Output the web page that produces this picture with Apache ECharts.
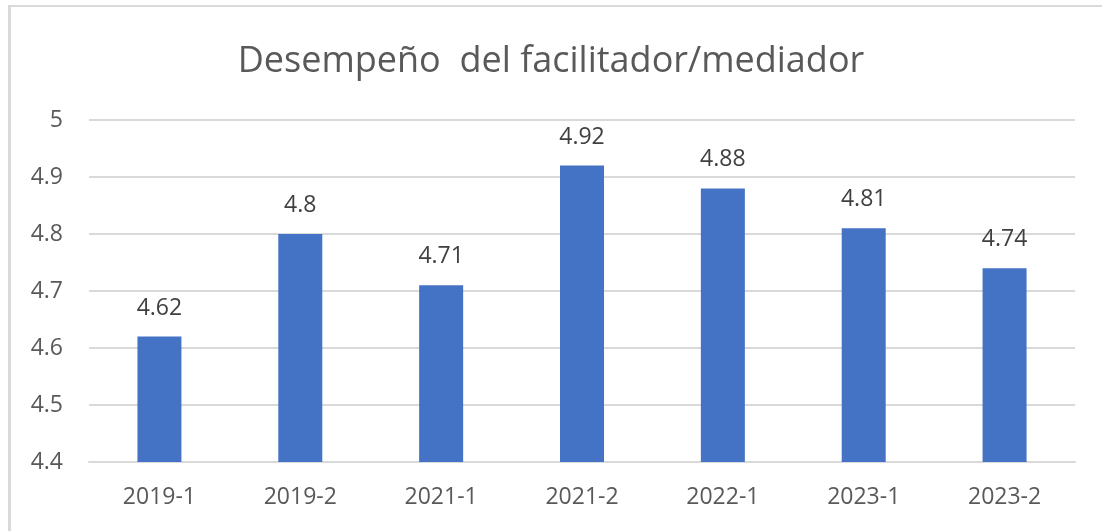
<!DOCTYPE html>
<html>
<head>
<meta charset="utf-8">
<script src="https://cdn.jsdelivr.net/npm/echarts@6/dist/echarts.min.js"></script>
<style>
    html, body { margin: 0; padding: 0; background: #fff; }
    #frame {
        position: absolute; left: 8px; top: 5px; width: 1110px; height: 540px;
        border-left: 3px solid #d9d9d9; border-top: 2px solid #d9d9d9;
    }
    #chart { position: absolute; left: 0; top: 0; width: 1102px; height: 531px; }
</style>
</head>
<body>
<div id="frame"></div>
<div id="chart"></div>
<script>
var periodos = ['2019-1', '2019-2', '2021-1', '2021-2', '2022-1', '2023-1', '2023-2'];
var puntajes = [4.62, 4.8, 4.71, 4.92, 4.88, 4.81, 4.74];
var ejeY = { min: 4.4, max: 5, interval: 0.1 };

var chart = echarts.init(document.getElementById('chart'));
chart.setOption({
    animation: false,
    title: {
        text: 'Desempeño  del facilitador/mediador',
        left: 'center',
        top: 39,
        textStyle: {
            fontFamily: 'Open Sans',
            fontSize: 36,
            fontWeight: 'normal',
            color: '#595959'
        }
    },
    grid: {
        left: 89,
        right: 27,
        top: 120,
        bottom: 69
    },
    xAxis: {
        type: 'category',
        data: periodos,
        axisLine: { lineStyle: { color: '#d9d9d9', width: 2 } },
        axisTick: { show: false },
        axisLabel: {
            margin: 24,
            fontFamily: 'Open Sans',
            fontSize: 23,
            color: '#595959'
        }
    },
    yAxis: {
        type: 'value',
        min: ejeY.min,
        max: ejeY.max,
        interval: ejeY.interval,
        axisLine: { show: false },
        axisTick: { show: false },
        splitLine: { lineStyle: { color: '#d9d9d9', width: 2 } },
        axisLabel: {
            margin: 26,
            fontFamily: 'Open Sans',
            fontSize: 23,
            color: '#595959',
            formatter: function (v) { return String(+v.toFixed(1)); }
        }
    },
    series: [
        {
            type: 'bar',
            data: puntajes,
            barWidth: 44,
            itemStyle: { color: '#4472c4' },
            label: {
                show: true,
                position: 'top',
                distance: 17,
                fontFamily: 'Open Sans',
                fontSize: 23,
                color: '#404040'
            }
        }
    ]
});
</script>
</body>
</html>
